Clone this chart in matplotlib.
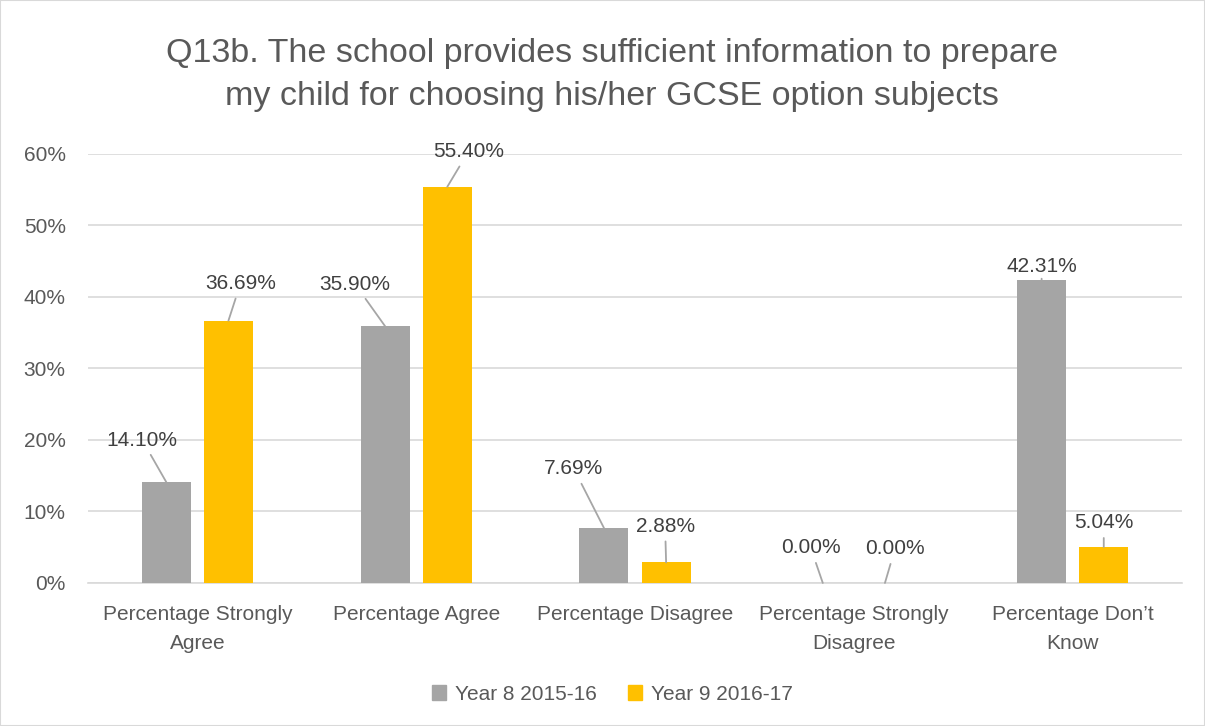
#!/usr/bin/env python3
import numpy as np
import matplotlib
matplotlib.use('Agg')
import matplotlib.pyplot as plt
from matplotlib.patches import Patch, Rectangle

categories = ['Percentage Strongly\nAgree', 'Percentage Agree', 'Percentage Disagree',
              'Percentage Strongly\nDisagree', 'Percentage Don\u2019t\nKnow']
year8 = [14.10, 35.90, 7.69, 0.00, 42.31]
year9 = [36.69, 55.40, 2.88, 0.00, 5.04]
series_names = ['Year 8 2015-16', 'Year 9 2016-17']

# label offsets in pixels (text centre relative to bar top)
year8_offsets = [(-24, 42), (-30, 42), (-30, 59), (-12, 35), (0, 14)]
year9_offsets = [(12, 37), (21, 35), (-1, 36), (10, 34), (0, 24)]

gray = '#A5A5A5'
yellow = '#FFC000'
text_color = '#595959'
grid_color = '#D9D9D9'
fs = 15

plt.rcParams['font.family'] = ['Liberation Sans', 'DejaVu Sans']

fig = plt.figure(figsize=(12.05, 7.26), dpi=100)
ax = fig.add_axes([0.073, 0.197, 0.908, 0.591])
fig.patches.append(Rectangle((0, 0), 1, 1, transform=fig.transFigure,
                             fill=False, edgecolor=grid_color, linewidth=1.5))

x = np.arange(len(categories))
width = 0.224
off = 0.142
b8 = ax.bar(x - off, [v / 100 for v in year8], width, color=gray, label=series_names[0], zorder=3)
b9 = ax.bar(x + off, [v / 100 for v in year9], width, color=yellow, label=series_names[1], zorder=3)

def label_bars(bars, values, offsets):
    for bar, v, (dx, dy) in zip(bars, values, offsets):
        cx = bar.get_x() + bar.get_width() / 2
        ax.annotate('%.2f%%' % v, xy=(cx, v / 100), xytext=(dx, dy),
                    textcoords='offset pixels', ha='center', va='center',
                    fontsize=fs, color='#404040', zorder=4,
                    arrowprops=dict(arrowstyle='-', color='#A6A6A6', lw=1.3,
                                    shrinkA=2, shrinkB=0))

label_bars(b8, year8, year8_offsets)
label_bars(b9, year9, year9_offsets)

ax.set_xlim(-0.5, len(categories) - 0.5)
ax.set_ylim(0, 0.6)
ticks = np.arange(0, 0.61, 0.1)
ax.set_yticks(ticks)
ax.set_yticklabels(['%d%%' % round(t * 100) for t in ticks])
ax.set_xticks(x)
ax.set_xticklabels(categories, linespacing=1.65)
ax.tick_params(axis='both', length=0, colors=text_color, labelsize=fs)
ax.tick_params(axis='y', pad=16)
ax.tick_params(axis='x', pad=16)
ax.grid(axis='y', color=grid_color, linewidth=1.2, zorder=0)
for s in ['top', 'right', 'left']:
    ax.spines[s].set_visible(False)
ax.spines['bottom'].set_color(grid_color)
ax.spines['bottom'].set_linewidth(1.2)

fig.text(0.508, 0.897, 'Q13b. The school provides sufficient information to prepare\n'
         'my child for choosing his/her GCSE option subjects',
         ha='center', va='center', fontsize=24.5, color=text_color, linespacing=1.5)

handles = [Patch(color=gray, label=series_names[0]), Patch(color=yellow, label=series_names[1])]
fig.legend(handles=handles, loc='center', bbox_to_anchor=(0.508, 0.044), ncol=2,
           frameon=False, fontsize=fs, labelcolor=text_color,
           handlelength=0.7, handleheight=0.7, handletextpad=0.4, columnspacing=1.5)

fig.savefig('out.png', dpi=100)
